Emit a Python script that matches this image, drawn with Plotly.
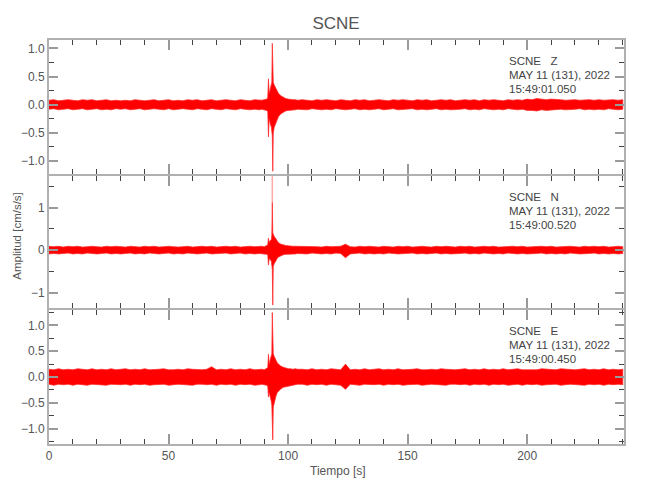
import plotly.graph_objects as go
from plotly.subplots import make_subplots

FONT = "Liberation Sans, Arial, sans-serif"
TXT = "#555555"

# ---------------- data (envelopes of the traces) -------------
t_pre = [0, 2, 4, 6, 8, 10, 12, 14, 16, 18, 20, 22, 24, 26, 28, 30, 32, 34, 36, 38, 40, 42, 44,
         46, 48, 50, 52, 54, 56, 58, 60, 62, 64, 66, 68, 70, 72, 74, 76, 78, 80, 82, 84, 86, 88]
t_evt = [89, 90, 91, 91.5, 91.8, 92.1, 92.5, 93.0, 93.2, 93.4, 93.6, 93.8, 94.2, 94.6, 95.0,
         95.5, 96.0, 97.0, 98.0, 99.0, 100.0, 101.0, 102.0, 103.0, 104.0]
t_post = [106, 108, 110, 112, 114, 116, 118, 120, 122, 124, 126, 128, 130, 132, 134, 136, 138,
          140, 142, 144, 146, 148, 150, 152, 154, 156, 158, 160, 162, 164, 166, 168, 170, 172,
          174, 176, 178, 180, 182, 184, 186, 188, 190, 192, 194, 196, 198, 200, 202, 204, 206,
          208, 210, 212, 214, 216, 218, 220, 222, 224, 226, 228, 230, 232, 234, 236, 238, 240]

# Z component
z_hi_pre = [0.08, 0.09, 0.07, 0.08, 0.09, 0.08, 0.07, 0.09, 0.08, 0.09, 0.07, 0.08, 0.09, 0.07, 0.08,
            0.07, 0.08, 0.07, 0.09, 0.08, 0.07, 0.08, 0.09, 0.07, 0.08, 0.09, 0.07, 0.08, 0.07, 0.09,
            0.08, 0.09, 0.07, 0.08, 0.09, 0.07, 0.08, 0.09, 0.08, 0.07, 0.09, 0.08, 0.07, 0.09, 0.08]
z_lo_pre = [-0.08, -0.07, -0.09, -0.08, -0.07, -0.09, -0.08, -0.07, -0.09, -0.08, -0.07, -0.09, -0.08,
            -0.09, -0.07, -0.08, -0.07, -0.09, -0.08, -0.07, -0.09, -0.08, -0.07, -0.08, -0.09, -0.07,
            -0.09, -0.08, -0.07, -0.08, -0.09, -0.07, -0.08, -0.09, -0.07, -0.08, -0.09, -0.07, -0.08,
            -0.09, -0.07, -0.08, -0.09, -0.08, -0.09]
z_hi_evt = [0.08, 0.09, 0.10, 0.12, 0.46, 0.20, 0.30, 0.35, 0.40, 1.09, 0.45, 0.40, 0.35, 0.32, 0.28,
            0.24, 0.20, 0.16, 0.13, 0.11, 0.10, 0.09, 0.09, 0.09, 0.08]
z_lo_evt = [-0.08, -0.09, -0.10, -0.12, -0.57, -0.25, -0.33, -0.40, -0.45, -0.55, -1.18, -0.50, -0.40,
            -0.36, -0.32, -0.26, -0.21, -0.16, -0.13, -0.11, -0.10, -0.09, -0.09, -0.09, -0.08]
z_hi_post = [0.09, 0.08, 0.07, 0.09, 0.08, 0.09, 0.08, 0.07, 0.09, 0.08, 0.07, 0.09, 0.08, 0.09, 0.07,
             0.08, 0.09, 0.08, 0.07, 0.09, 0.08, 0.09, 0.08, 0.07, 0.09, 0.08, 0.09, 0.07, 0.08, 0.09,
             0.08, 0.09, 0.07, 0.08, 0.09, 0.08, 0.09, 0.07, 0.09, 0.08, 0.09, 0.08, 0.07, 0.09, 0.08,
             0.09, 0.08, 0.10, 0.09, 0.11, 0.10, 0.09, 0.10, 0.10, 0.09, 0.08, 0.09, 0.09, 0.08, 0.09,
             0.09, 0.08, 0.09, 0.08, 0.09, 0.09, 0.08, 0.09]
z_lo_post = [-0.08, -0.09, -0.07, -0.08, -0.09, -0.08, -0.09, -0.07, -0.08, -0.09, -0.08, -0.07, -0.09,
             -0.08, -0.09, -0.08, -0.07, -0.09, -0.08, -0.07, -0.09, -0.09, -0.08, -0.07, -0.09, -0.08,
             -0.09, -0.08, -0.07, -0.09, -0.08, -0.09, -0.09, -0.08, -0.07, -0.09, -0.08, -0.09, -0.07,
             -0.08, -0.09, -0.08, -0.09, -0.07, -0.08, -0.09, -0.08, -0.10, -0.10, -0.11, -0.09, -0.10,
             -0.10, -0.09, -0.08, -0.09, -0.09, -0.08, -0.07, -0.09, -0.08, -0.09, -0.08, -0.09, -0.07,
             -0.08, -0.09, -0.08]

# N component
n_hi_pre = [0.09, 0.08, 0.09, 0.07, 0.09, 0.08, 0.09, 0.07, 0.08, 0.09, 0.08, 0.07, 0.09, 0.08, 0.09,
            0.08, 0.07, 0.09, 0.08, 0.07, 0.09, 0.08, 0.09, 0.07, 0.08, 0.09, 0.08, 0.07, 0.08, 0.09,
            0.07, 0.08, 0.09, 0.08, 0.09, 0.07, 0.08, 0.09, 0.08, 0.09, 0.07, 0.08, 0.09, 0.08, 0.09]
n_lo_pre = [-0.09, -0.08, -0.09, -0.08, -0.07, -0.09, -0.08, -0.09, -0.07, -0.08, -0.09, -0.08, -0.07,
            -0.09, -0.08, -0.09, -0.08, -0.07, -0.09, -0.08, -0.09, -0.07, -0.08, -0.09, -0.08, -0.07,
            -0.09, -0.08, -0.09, -0.07, -0.08, -0.09, -0.08, -0.07, -0.09, -0.09, -0.08, -0.07, -0.09,
            -0.08, -0.07, -0.09, -0.08, -0.09, -0.08]
n_hi_evt = [0.09, 0.08, 0.10, 0.12, 0.28, 0.18, 0.22, 0.25, 0.35, 1.12, 0.40, 0.36, 0.32, 0.29, 0.26,
            0.21, 0.17, 0.14, 0.12, 0.11, 0.10, 0.09, 0.09, 0.09, 0.09]
n_lo_evt = [-0.08, -0.09, -0.10, -0.11, -0.35, -0.20, -0.22, -0.26, -0.35, -0.45, -1.29, -0.38, -0.32,
            -0.27, -0.23, -0.19, -0.16, -0.13, -0.11, -0.10, -0.10, -0.09, -0.09, -0.09, -0.08]
n_hi_post = [0.09, 0.08, 0.09, 0.08, 0.07, 0.09, 0.08, 0.09, 0.09, 0.14, 0.08, 0.07, 0.09, 0.08, 0.09,
             0.08, 0.07, 0.09, 0.08, 0.07, 0.09, 0.08, 0.09, 0.07, 0.08, 0.09, 0.08, 0.07, 0.09, 0.08,
             0.09, 0.08, 0.07, 0.09, 0.08, 0.09, 0.07, 0.08, 0.09, 0.08, 0.09, 0.07, 0.08, 0.09, 0.09,
             0.08, 0.09, 0.07, 0.08, 0.09, 0.09, 0.08, 0.09, 0.07, 0.08, 0.09, 0.09, 0.08, 0.07, 0.09,
             0.08, 0.09, 0.08, 0.09, 0.07, 0.08, 0.09, 0.08]
n_lo_post = [-0.08, -0.09, -0.07, -0.08, -0.09, -0.08, -0.09, -0.07, -0.08, -0.18, -0.09, -0.08, -0.07,
             -0.09, -0.08, -0.09, -0.08, -0.09, -0.07, -0.08, -0.09, -0.09, -0.08, -0.07, -0.09, -0.08,
             -0.09, -0.08, -0.07, -0.09, -0.08, -0.09, -0.09, -0.08, -0.07, -0.09, -0.08, -0.09, -0.07,
             -0.08, -0.09, -0.08, -0.09, -0.07, -0.08, -0.09, -0.08, -0.09, -0.09, -0.08, -0.07, -0.09,
             -0.08, -0.09, -0.08, -0.09, -0.07, -0.08, -0.09, -0.09, -0.08, -0.07, -0.09, -0.08, -0.09,
             -0.08, -0.09, -0.08]
n_peak_time = 93.4
n_peak_max = 1.74

# E component
e_hi_pre = [0.15, 0.14, 0.16, 0.14, 0.15, 0.14, 0.16, 0.15, 0.14, 0.16, 0.14, 0.15, 0.14, 0.16, 0.14,
            0.15, 0.16, 0.14, 0.15, 0.14, 0.16, 0.14, 0.14, 0.15, 0.16, 0.14, 0.14, 0.15, 0.14, 0.16,
            0.15, 0.14, 0.14, 0.15, 0.20, 0.14, 0.15, 0.14, 0.16, 0.14, 0.15, 0.14, 0.16, 0.14, 0.15]
e_lo_pre = [-0.14, -0.16, -0.14, -0.15, -0.14, -0.16, -0.14, -0.15, -0.16, -0.14, -0.14, -0.15, -0.16,
            -0.14, -0.14, -0.15, -0.14, -0.16, -0.14, -0.15, -0.14, -0.16, -0.15, -0.14, -0.14, -0.16,
            -0.15, -0.14, -0.14, -0.15, -0.16, -0.14, -0.14, -0.15, -0.14, -0.16, -0.14, -0.15, -0.14,
            -0.16, -0.14, -0.15, -0.14, -0.16, -0.15]
e_hi_evt = [0.15, 0.14, 0.16, 0.18, 0.44, 0.25, 0.33, 0.40, 0.45, 1.25, 0.50, 0.45, 0.40, 0.35, 0.30,
            0.27, 0.25, 0.21, 0.19, 0.17, 0.16, 0.16, 0.15, 0.16, 0.15]
e_lo_evt = [-0.14, -0.15, -0.16, -0.18, -0.39, -0.30, -0.38, -0.48, -0.55, -0.60, -1.22, -0.58, -0.48,
            -0.42, -0.36, -0.30, -0.27, -0.23, -0.20, -0.18, -0.17, -0.16, -0.15, -0.15, -0.14]
e_hi_post = [0.15, 0.14, 0.16, 0.14, 0.15, 0.14, 0.16, 0.15, 0.14, 0.25, 0.14, 0.15, 0.14, 0.16, 0.14,
             0.15, 0.16, 0.14, 0.15, 0.14, 0.16, 0.14, 0.14, 0.15, 0.16, 0.14, 0.14, 0.15, 0.14, 0.16,
             0.15, 0.14, 0.14, 0.15, 0.16, 0.14, 0.15, 0.14, 0.16, 0.14, 0.15, 0.14, 0.16, 0.14, 0.15,
             0.16, 0.14, 0.14, 0.15, 0.14, 0.16, 0.15, 0.14, 0.14, 0.16, 0.15, 0.14, 0.14, 0.15, 0.16,
             0.14, 0.15, 0.14, 0.16, 0.14, 0.15, 0.14, 0.15]
e_lo_post = [-0.14, -0.16, -0.14, -0.15, -0.14, -0.16, -0.14, -0.15, -0.16, -0.24, -0.14, -0.15, -0.16,
             -0.14, -0.14, -0.15, -0.14, -0.16, -0.14, -0.15, -0.14, -0.16, -0.15, -0.14, -0.14, -0.16,
             -0.15, -0.14, -0.14, -0.15, -0.16, -0.14, -0.14, -0.15, -0.14, -0.16, -0.14, -0.15, -0.14,
             -0.16, -0.14, -0.15, -0.14, -0.16, -0.15, -0.14, -0.16, -0.14, -0.15, -0.14, -0.16, -0.15,
             -0.14, -0.14, -0.16, -0.15, -0.14, -0.14, -0.15, -0.16, -0.14, -0.15, -0.14, -0.16, -0.14,
             -0.15, -0.14, -0.15]

channels = ["Z", "N", "E"]
start_times = ["15:49:01.050", "15:49:00.520", "15:49:00.450"]
station = "SCNE"
date_label = "MAY 11 (131), 2022"
y_ranges = [[-1.23, 1.15], [-1.36, 1.74], [-1.30, 1.30]]
y_dticks = [0.5, 1.0, 0.5]
y_minor = [0.25, 0.5, 0.25]
y_formats = [".1f", "d", ".1f"]

t_all = t_pre + t_evt + t_post
hi_all = [z_hi_pre + z_hi_evt + z_hi_post, n_hi_pre + n_hi_evt + n_hi_post, e_hi_pre + e_hi_evt + e_hi_post]
lo_all = [z_lo_pre + z_lo_evt + z_lo_post, n_lo_pre + n_lo_evt + n_lo_post, e_lo_pre + e_lo_evt + e_lo_post]
for h, l in zip(hi_all, lo_all):
    assert len(h) == len(t_all) and len(l) == len(t_all), (len(h), len(l), len(t_all))

# ---------------- figure -------------
fig = make_subplots(rows=3, cols=1, shared_xaxes=True, vertical_spacing=0)

for i in range(3):
    fig.add_trace(go.Scatter(
        x=t_all + t_all[::-1], y=hi_all[i] + lo_all[i][::-1],
        mode="lines", fill="toself", fillcolor="#ff0000",
        line=dict(color="rgba(255,40,40,0.75)", width=1), hoverinfo="skip", showlegend=False),
        row=i + 1, col=1)

# faint single-sample peak of the N trace
fig.add_trace(go.Scatter(
    x=[n_peak_time, n_peak_time], y=[n_hi_evt[t_evt.index(n_peak_time)], n_peak_max],
    mode="lines", line=dict(color="rgba(255,0,0,0.35)", width=1.5),
    hoverinfo="skip", showlegend=False), row=2, col=1)

axis_common = dict(showline=True, linecolor="#b0b0b0", linewidth=2, mirror="ticks",
                   ticks="inside", tickwidth=2, tickcolor="#9a9a9a",
                   showgrid=False, zeroline=False, automargin=False,
                   tickfont=dict(family=FONT, size=12, color=TXT))

fig.update_xaxes(range=[0, 240.5], dtick=50, tick0=0, ticklen=10,
                 minor=dict(ticks="inside", dtick=10, tick0=0, ticklen=5, tickwidth=1, tickcolor="#444444"),
                 **axis_common)
fig.update_xaxes(showticklabels=True, row=3, col=1)

# panel domains overlap by the frame width so the shared borders coincide
domains = [[0.6683, 1.0], [0.3366, 0.6634], [0.0, 0.3317]]
for i in range(3):
    fig.update_yaxes(range=y_ranges[i], dtick=y_dticks[i], tick0=0, tickformat=y_formats[i],
                     ticklen=9, domain=domains[i],
                     minor=dict(ticks="inside", dtick=y_minor[i], tick0=0, ticklen=5, tickwidth=1,
                                tickcolor="#444444"),
                     row=i + 1, col=1, **axis_common)

# station labels in each panel
for i in range(3):
    yref = "y domain" if i == 0 else f"y{i + 1} domain"
    xref = "x domain" if i == 0 else f"x{i + 1} domain"
    lines = [f"{station}   {channels[i]}", date_label, start_times[i]]
    for j, txt in enumerate(lines):
        fig.add_annotation(text=txt, xref=xref, yref=yref, x=0.796, y=1 - (21.5 + 14 * j) / 134.7,
                           xanchor="left", yanchor="middle", showarrow=False,
                           font=dict(family=FONT, size=11.5, color="#444444"))

fig.add_annotation(text="Tiempo [s]", xref="paper", yref="paper", x=0.502, y=-0.067,
                   xanchor="center", yanchor="middle", showarrow=False,
                   font=dict(family=FONT, size=12, color=TXT))
fig.add_annotation(text="Amplitud [cm/s/s]", xref="paper", yref="paper", x=-0.056, y=0.515,
                   xanchor="center", yanchor="middle", textangle=-90, showarrow=False,
                   font=dict(family=FONT, size=11.5, color=TXT))

fig.update_layout(
    template="none",
    width=650, height=500,
    margin=dict(l=49, r=26, t=40, b=56),
    paper_bgcolor="white", plot_bgcolor="white",
    title=dict(text=station, x=0.517, xanchor="center", y=0.953, yanchor="middle", yref="container",
               font=dict(family=FONT, size=17, color=TXT)),
    showlegend=False,
)

fig.write_html("out.html", config={"displayModeBar": False},
               post_script="document.body.style.margin='0';")
